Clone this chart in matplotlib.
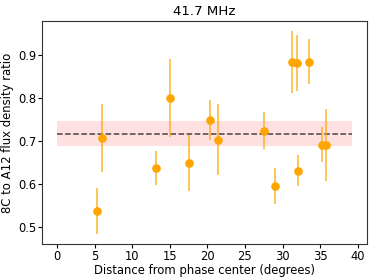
import matplotlib
matplotlib.use("Agg")
import matplotlib.pyplot as plt
import numpy as np

distance = [5.29, 5.96, 13.1, 15.07, 17.6, 20.35, 21.47, 27.5, 28.98, 31.29, 31.87, 32.1, 33.47, 35.3, 35.8]
ratio = [0.538, 0.708, 0.638, 0.801, 0.650, 0.750, 0.704, 0.725, 0.597, 0.884, 0.882, 0.631, 0.885, 0.692, 0.692]
ratio_err = [0.053, 0.079, 0.040, 0.090, 0.065, 0.047, 0.083, 0.044, 0.042, 0.072, 0.065, 0.036, 0.052, 0.040, 0.084]
mean_ratio = 0.718
mean_err = 0.028
band_x = [0, 39.2]

fig = plt.figure(figsize=(3.74, 2.8), dpi=100)
ax = fig.add_axes([0.113, 0.129, 0.867, 0.796])

ax.errorbar(distance, ratio, yerr=ratio_err, fmt='o', color='orange', markersize=5.2,
            ecolor=(1.0, 0.647, 0.0, 0.7), elinewidth=1.3, zorder=3)
ax.fill_between(band_x, mean_ratio - mean_err, mean_ratio + mean_err, color='red', alpha=0.12, linewidth=0)
ax.plot(band_x, [mean_ratio, mean_ratio], '--', color='black', alpha=0.7, linewidth=1.1)

ax.set_title('41.7 MHz', fontsize=9.6, pad=4)
ax.set_xlabel('Distance from phase center (degrees)', fontsize=8.4, labelpad=0.5)
ax.set_ylabel('8C to A12 flux density ratio', fontsize=8.4, labelpad=3)
ax.set_xticks(np.arange(0, 41, 5))
ax.set_yticks([0.5, 0.6, 0.7, 0.8, 0.9])
ax.tick_params(labelsize=8.3, length=3, pad=1.5)
for s in ax.spines.values():
    s.set_color('#333333')

fig.savefig('out.png', dpi=100)
